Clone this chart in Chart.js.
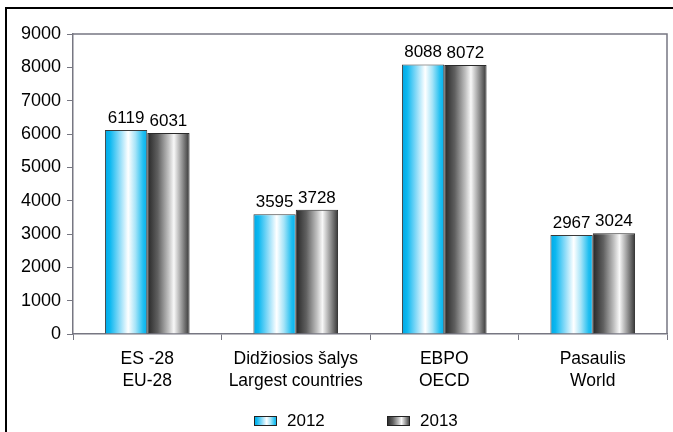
<!DOCTYPE html>
<html>
<head>
<meta charset="utf-8">
<script src="https://cdn.jsdelivr.net/npm/chart.js@4/dist/chart.umd.min.js"></script>
<style>
    html, body { margin: 0; padding: 0; background: #fff; }
    #wrap { width: 673px; height: 432px; position: relative; }
</style>
</head>
<body>
<div id="wrap"><canvas id="myChart" width="673" height="432"></canvas></div>
<script>
// chart data
var categories = [['ES -28', 'EU-28'], ['Didžiosios šalys', 'Largest countries'], ['EBPO', 'OECD'], ['Pasaulis', 'World']];
var values2012 = [6119, 3595, 8088, 2967];
var values2013 = [6031, 3728, 8072, 3024];
var yTicks = [0, 1000, 2000, 3000, 4000, 5000, 6000, 7000, 8000, 9000];
var seriesNames = ['2012', '2013'];

var axisColor = '#777782';
var font = 'Liberation Sans, Arial, sans-serif';

let makeGradient = function(ctx, x0, x1, series){
    var g = ctx.createLinearGradient(x0, 0, x1, 0);
    if (series === 0) {
        g.addColorStop(0, '#00a8e6');
        g.addColorStop(0.12, '#0cb8f0');
        g.addColorStop(0.35, '#8fdcf8');
        g.addColorStop(0.55, '#ffffff');
        g.addColorStop(0.72, '#a6e4f8');
        g.addColorStop(0.9, '#22bff0');
        g.addColorStop(1, '#00b0ec');
    } else {
        g.addColorStop(0, '#262626');
        g.addColorStop(0.25, '#606060');
        g.addColorStop(0.5, '#c0c0c0');
        g.addColorStop(0.63, '#f8f8f8');
        g.addColorStop(0.85, '#858585');
        g.addColorStop(1, '#353535');
    }
    return g;
}

// gradient bars, frame, value labels and legend
var decor = {
    id: 'decor',
    beforeDraw: function(chart){
        var ctx = chart.ctx;
        ctx.save();
        ctx.fillStyle = '#000';
        ctx.fillRect(5, 7, 2, 432);
        ctx.fillRect(5, 7, 673, 2);
        ctx.restore();
    },
    beforeDatasetsDraw: function(chart){
        chart.data.datasets.forEach(function(ds, di){
            var meta = chart.getDatasetMeta(di);
            meta.data.forEach(function(bar){
                var half = bar.width / 2;
                bar.options = Object.assign({}, bar.options, {
                    backgroundColor: makeGradient(chart.ctx, bar.x - half, bar.x + half, di)
                });
            });
        });
    },
    afterDatasetsDraw: function(chart){
        var ctx = chart.ctx;
        var area = chart.chartArea;
        ctx.save();
        // top and right border of the plot
        ctx.strokeStyle = axisColor;
        ctx.lineWidth = 1.5;
        ctx.beginPath();
        ctx.moveTo(area.left, area.top);
        ctx.lineTo(area.right, area.top);
        ctx.lineTo(area.right, area.bottom);
        ctx.stroke();

        // values above the bars
        ctx.fillStyle = '#000';
        ctx.font = '17px ' + font;
        ctx.textAlign = 'center';
        ctx.textBaseline = 'alphabetic';
        chart.data.datasets.forEach(function(ds, di){
            var meta = chart.getDatasetMeta(di);
            meta.data.forEach(function(bar, i){
                ctx.fillText(String(ds.data[i]), bar.x, bar.y - 7);
            });
        });

        // legend
        var items = [{x: 254, tx: 287}, {x: 387, tx: 420}];
        items.forEach(function(it, di){
            ctx.fillStyle = makeGradient(ctx, it.x, it.x + 23, di);
            ctx.fillRect(it.x, 416, 23, 10);
            ctx.strokeStyle = '#222';
            ctx.lineWidth = 1;
            ctx.strokeRect(it.x + 0.5, 416.5, 22, 9);
            ctx.fillStyle = '#000';
            ctx.textAlign = 'left';
            ctx.textBaseline = 'middle';
            ctx.fillText(seriesNames[di], it.tx, 421);
        });
        ctx.restore();
    }
};

var ctx = document.getElementById('myChart').getContext('2d');
var chart = new Chart(ctx, {
    type: 'bar',
    data: {
        labels: categories,
        datasets: [{
            label: seriesNames[0],
            data: values2012,
            backgroundColor: '#00b2ee',
            borderColor: '#3a3a3a',
            borderWidth: 1
        }, {
            label: seriesNames[1],
            data: values2013,
            backgroundColor: '#555',
            borderColor: '#2a2a2a',
            borderWidth: 1
        }]
    },
    options: {
        responsive: false,
        animation: false,
        categoryPercentage: 0.57,
        barPercentage: 1,
        layout: { padding: { top: 34, right: 6, left: 0, bottom: 0 } },
        plugins: {
            legend: { display: false },
            tooltip: { enabled: false }
        },
        scales: {
            x: {
                afterFit: function(scale){ scale.height = 98; },
                grid: { drawOnChartArea: false, tickLength: 6, color: axisColor, offset: true },
                border: { color: axisColor, width: 1.5 },
                ticks: { color: '#000', font: { family: font, size: 17.5, lineHeight: 1.25 }, padding: 8, maxRotation: 0 }
            },
            y: {
                min: 0,
                max: 9000,
                afterFit: function(scale){ scale.width = 73; },
                afterBuildTicks: function(scale){
                    scale.ticks = yTicks.map(function(v){ return {value: v}; });
                },
                grid: { drawOnChartArea: false, tickLength: 6, color: axisColor },
                border: { color: axisColor, width: 1.5 },
                ticks: {
                    color: '#000',
                    font: { family: font, size: 18 },
                    padding: 6,
                    callback: function(value){ return String(value); }
                }
            }
        }
    },
    plugins: [decor]
});
</script>
</body>
</html>
